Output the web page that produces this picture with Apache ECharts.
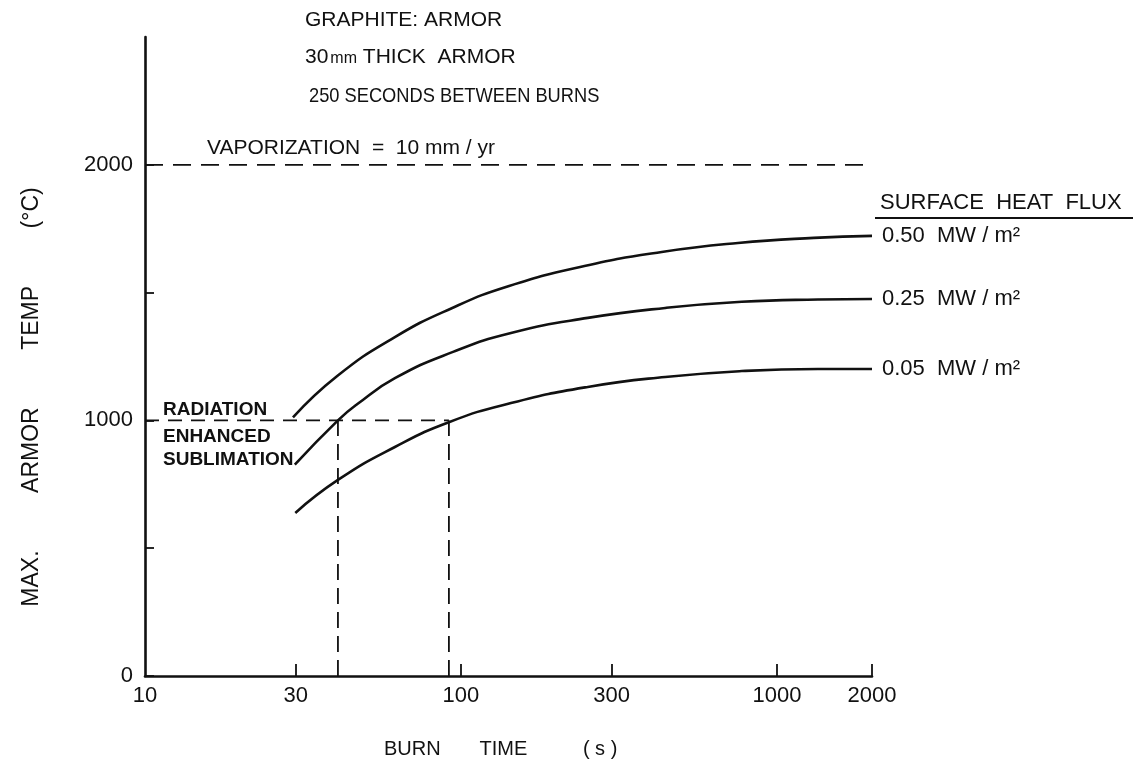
<!DOCTYPE html>
<html>
<head>
<meta charset="utf-8">
<script src="https://cdn.jsdelivr.net/npm/echarts@6.0.0/dist/echarts.min.js"></script>
<style>
html,body{margin:0;padding:0;background:#fff;}
#chart{width:1137px;height:776px;}
</style>
</head>
<body>
<div id="chart"></div>
<script>
// ---- data ----
const seriesNames = ['0.50  MW / m²', '0.25  MW / m²', '0.05  MW / m²'];
const burnTime050 = [29.4, 40.5, 61.6, 93.5, 142, 246, 432, 753, 1309, 2000];
const temp050     = [1012, 1173, 1325, 1439, 1526, 1604, 1659, 1694, 1714, 1722];
const burnTime025 = [29.8, 40.8, 46.9, 61.8, 94.4, 144, 252, 443, 774, 1349, 2000];
const temp025     = [827, 1000, 1063, 1165, 1268, 1342, 1401, 1440, 1464, 1473, 1475];
const burnTime005 = [29.9, 40.8, 61.8, 92, 144, 252, 443, 774, 1349, 2000];
const temp005     = [638, 767, 896, 994, 1068, 1131, 1170, 1193, 1201, 1201];

const vaporX = [10, 2000];
const vaporY = [2000, 2000];
const sublimX = [10, 91.6];
const sublimY = [1000, 1000];
const drop1X = [40.8, 40.8];
const drop2X = [91.6, 91.6];
const dropY = [0, 1000];

const xTickValues  = [30, 100, 300, 1000, 2000];
const xLabelValues = [10, 30, 100, 300, 1000, 2000];
const yTickValues  = [0, 500, 1000, 1500, 2000];
const yLabelValues = [0, 1000, 2000];

const zip = (xs, ys) => xs.map((x, i) => [x, ys[i]]);
const FONT = 'Liberation Sans';
const BLACK = '#111';

const chart = echarts.init(document.getElementById('chart'), null, {renderer: 'canvas'});

const curve = (name, xs, ys) => ({
  name: name,
  type: 'line',
  data: zip(xs, ys),
  smooth: 0.5,
  symbol: 'none',
  silent: true,
  lineStyle: {color: BLACK, width: 2.6},
  endLabel: {
    show: true,
    formatter: '{a}',
    distance: 10,
    color: BLACK,
    fontFamily: FONT,
    fontSize: 22
  }
});
const dashed = (xs, ys, dash) => ({
  type: 'line',
  data: zip(xs, ys),
  symbol: 'none',
  silent: true,
  lineStyle: {color: BLACK, width: 1.8, type: dash}
});
const txt = (x, y, text, size, extraStyle, opts) => Object.assign({
  type: 'text', x: x, y: y, silent: true,
  style: Object.assign({text: text, fill: BLACK, fontFamily: FONT, fontSize: size, align: 'left', verticalAlign: 'middle'}, extraStyle || {})
}, opts || {});

chart.setOption({
  animation: false,
  backgroundColor: '#fff',
  textStyle: {fontFamily: FONT, color: BLACK},
  grid: {left: 145, right: 265, top: 37, bottom: 100, containLabel: false, outerBoundsMode: 'none'},
  xAxis: {
    type: 'log',
    logBase: 10,
    min: 10,
    max: 2000,
    axisLine: {show: true, lineStyle: {color: BLACK, width: 2.6}},
    axisTick: {show: true, inside: true, length: 12, lineStyle: {color: BLACK, width: 1.8}, customValues: xTickValues},
    axisLabel: {show: true, margin: 9, fontFamily: FONT, fontSize: 22, color: BLACK, customValues: xLabelValues,
                formatter: v => String(v)},
    splitLine: {show: false},
    minorTick: {show: false},
    minorSplitLine: {show: false}
  },
  yAxis: {
    type: 'value',
    min: 0,
    max: 2500,
    interval: 500,
    axisLine: {show: true, lineStyle: {color: BLACK, width: 2.6}},
    axisTick: {show: true, inside: true, length: 9, lineStyle: {color: BLACK, width: 1.8}, customValues: yTickValues},
    axisLabel: {show: true, margin: 12, fontFamily: FONT, fontSize: 22, color: BLACK, customValues: yLabelValues,
                formatter: v => String(v)},
    splitLine: {show: false}
  },
  series: [
    curve(seriesNames[0], burnTime050, temp050),
    curve(seriesNames[1], burnTime025, temp025),
    curve(seriesNames[2], burnTime005, temp005),
    dashed(vaporX, vaporY, [18, 10]),
    dashed(sublimX, sublimY, [14, 9]),
    dashed(drop1X, dropY, [16, 8]),
    dashed(drop2X, dropY, [16, 8])
  ],
  graphic: [
    txt(305, 20, 'GRAPHITE: ARMOR', 21),
    {type: 'text', x: 305, y: 57, silent: true,
     style: {text: '{a|30}{b|mm}{a| THICK  ARMOR}', fill: BLACK, align: 'left', verticalAlign: 'middle',
       rich: {a: {fontFamily: FONT, fontSize: 21, fill: BLACK}, b: {fontFamily: FONT, fontSize: 16, fill: BLACK, padding: [4, 0, 0, 2]}}}},
    txt(309, 96, '250 SECONDS BETWEEN BURNS', 21, null, {scaleX: 0.87}),
    txt(207, 148, 'VAPORIZATION  =  10 mm / yr', 21),
    txt(163, 410, 'RADIATION', 19, {fontWeight: 'bold'}),
    txt(163, 437, 'ENHANCED', 19, {fontWeight: 'bold'}),
    txt(163, 460, 'SUBLIMATION', 19, {fontWeight: 'bold'}),
    txt(880, 203, 'SURFACE  HEAT  FLUX', 22),
    {type: 'line', silent: true, shape: {x1: 875, y1: 218, x2: 1133, y2: 218},
     style: {stroke: BLACK, lineWidth: 1.8}},
    // axis titles
    {type: 'text', x: 32, y: 397, rotation: Math.PI / 2, silent: true,
     style: {text: 'MAX.         ARMOR         TEMP         (°C)', fill: BLACK, fontFamily: FONT, fontSize: 23,
             align: 'center', verticalAlign: 'middle'}},
    txt(384, 749, 'BURN       TIME          ( s )', 20)
  ]
});
</script>
</body>
</html>
